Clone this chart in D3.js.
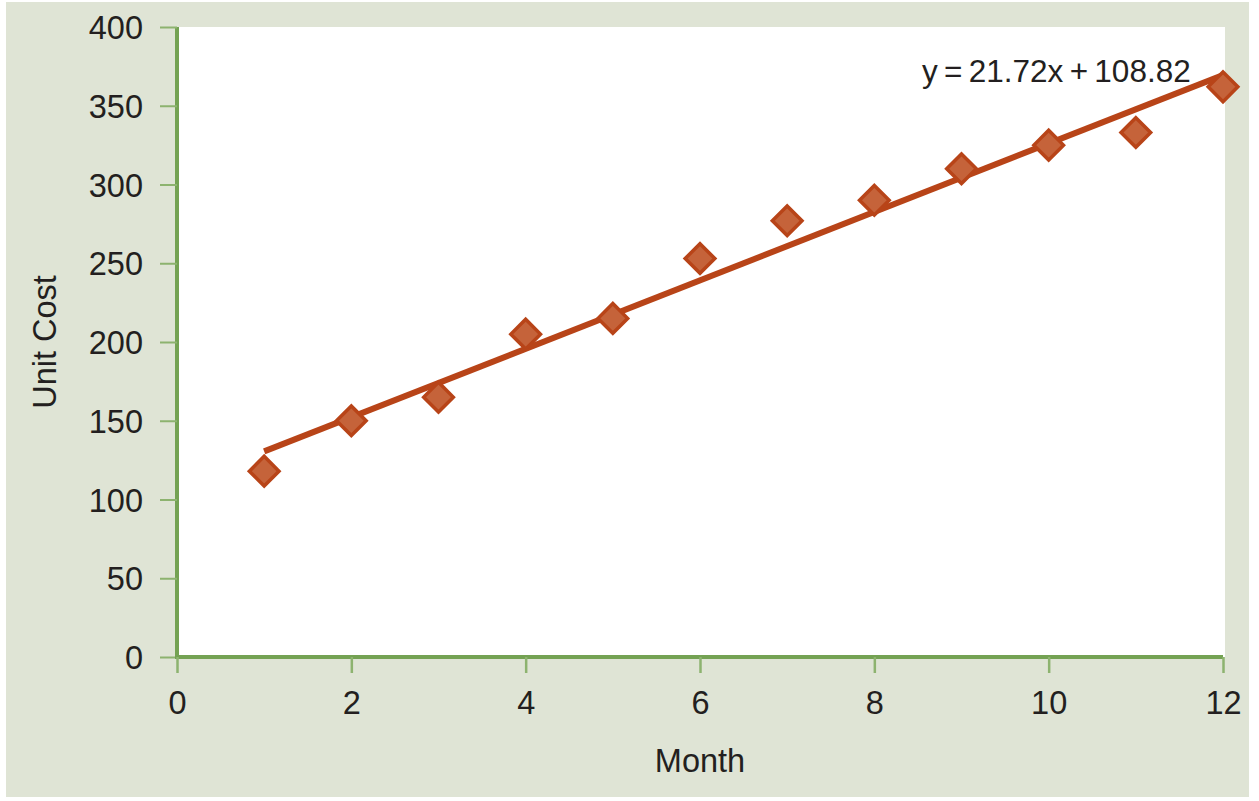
<!DOCTYPE html>
<html><head><meta charset="utf-8">
<script src="https://cdn.jsdelivr.net/npm/d3@7"></script>
<style>html,body{margin:0;padding:0;background:#fff;}svg{display:block;}</style>
</head><body>
<script>
const months = [1,2,3,4,5,6,7,8,9,10,11,12];
const unitCost = [118,150,165,205,215,253,277,290,310,325,333,362];
const xTicks = [0,2,4,6,8,10,12];
const yTicks = [0,50,100,150,200,250,300,350,400];
const trendSlope = 21.72, trendIntercept = 108.82;
const equationLabel = "y\u2009=\u200921.72x\u2009+\u2009108.82";
const xTitle = "Month", yTitle = "Unit Cost";

const W = 1259, H = 801;
const svg = d3.select("body").append("svg").attr("width", W).attr("height", H);
const font = "'Liberation Sans', Arial, Helvetica, sans-serif";
const green = "#74a253", tickGreen = "#8db36f", textCol = "#231f20";

svg.append("rect").attr("x",6).attr("y",2).attr("width",1243).attr("height",795).attr("fill","#dfe4d5");

const x = d3.scaleLinear().domain([0,12]).range([177,1223]);
const y = d3.scaleLinear().domain([0,400]).range([657,27]);

svg.append("rect").attr("x",x(0)).attr("y",y(400)).attr("width",1225-x(0)).attr("height",y(0)-y(400)).attr("fill","#fff");

// y axis
const yAxis = svg.append("g").attr("transform",`translate(${x(0)},0)`)
  .call(d3.axisLeft(y).tickValues(yTicks).tickSize(17).tickPadding(17).tickFormat(d3.format("d")));
yAxis.select(".domain").attr("stroke",green).attr("stroke-width",4).attr("d",`M0,${y(0)}V${y(400)}`);
yAxis.selectAll(".tick line").attr("stroke",tickGreen).attr("stroke-width",2);
yAxis.selectAll(".tick text").attr("fill",textCol).style("font-family",font).style("font-size","32.5px").attr("dy","0.36em");

// x axis
const xAxis = svg.append("g").attr("transform",`translate(0,${y(0)})`)
  .call(d3.axisBottom(x).tickValues(xTicks).tickSize(16).tickPadding(18).tickFormat(d3.format("d")));
xAxis.select(".domain").attr("stroke",green).attr("stroke-width",4).attr("d",`M${x(0)-2},0H${x(12)}`);
xAxis.selectAll(".tick line").attr("stroke",tickGreen).attr("stroke-width",2.5);
xAxis.selectAll(".tick text").attr("fill",textCol).style("font-family",font).style("font-size","32.5px");

// trend line
const tr = [1,12].map(m => [m, trendSlope*m + trendIntercept]);
svg.append("path").attr("d", d3.line().x(d=>x(d[0])).y(d=>y(d[1]))(tr))
  .attr("stroke","#b84418").attr("stroke-width",6).attr("fill","none");

// markers
const diamond = d3.symbol().type(d3.symbolDiamond2).size(560);
svg.selectAll(".pt").data(months).join("path")
  .attr("transform",(d,i)=>`translate(${x(d)},${y(unitCost[i])})`)
  .attr("d", diamond)
  .attr("fill","#c5633a").attr("stroke","#b84418").attr("stroke-width",3.5);

// equation
svg.append("text").attr("x",922).attr("y",82).text(equationLabel)
  .attr("fill",textCol).style("font-family",font).style("font-size","31.5px");

// titles
svg.append("text").attr("x",700).attr("y",772).attr("text-anchor","middle").text(xTitle)
  .attr("fill",textCol).style("font-family",font).style("font-size","32.5px");
svg.append("text").attr("transform","translate(56,342) rotate(-90)").attr("text-anchor","middle").text(yTitle)
  .attr("fill",textCol).style("font-family",font).style("font-size","32.5px");
</script>
</body></html>
